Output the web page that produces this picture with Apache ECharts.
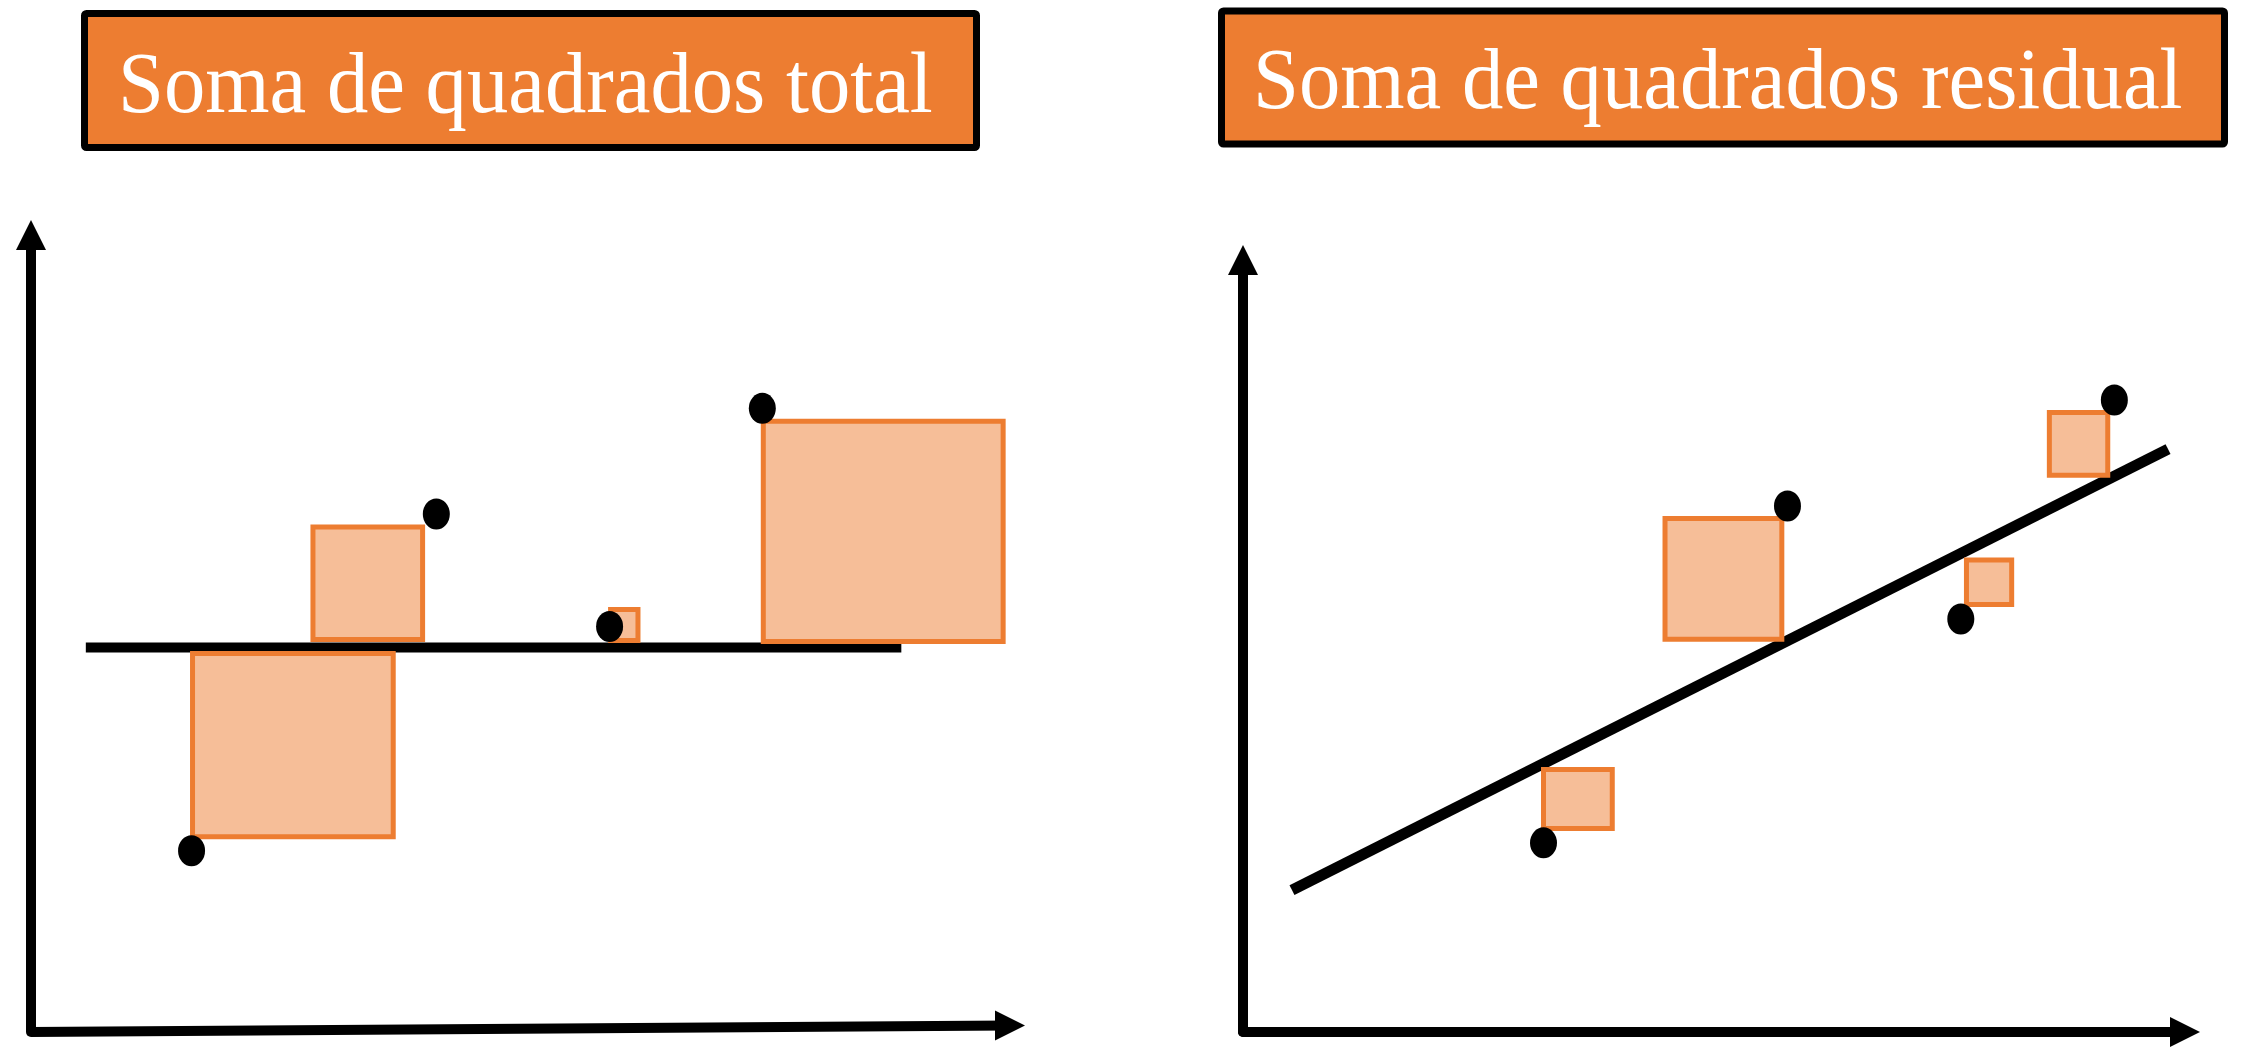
<!DOCTYPE html>
<html>
<head>
<meta charset="utf-8">
<script src="https://cdn.jsdelivr.net/npm/echarts@6.0.0/dist/echarts.min.js"></script>
<style>
html,body{margin:0;padding:0;background:#ffffff;}
#chart{width:2241px;height:1063px;}
</style>
</head>
<body>
<div id="chart"></div>
<script>
// ---- Titles ----
const panelTitles = ['Soma de quadrados total', 'Soma de quadrados residual'];

// ---- Left panel: total sum of squares (data units) ----
const totalPointX = [1.64, 4.14, 5.91, 7.47];
const totalPointY = [1.82, 5.20, 4.07, 6.26];
const totalMeanX = [0.56, 8.89];
const totalMeanY = [3.86, 3.86];
const totalSquareX0 = [1.65, 2.88, 5.92, 7.48];
const totalSquareX1 = [3.70, 4.00, 6.20, 9.93];
const totalSquareY0 = [1.96, 3.94, 3.93, 3.92];
const totalSquareY1 = [3.80, 5.07, 4.24, 6.13];
// slightly tilted horizontal axis of the left panel (start / end, data units)
const totalAxisX = [0, 10];
const totalAxisY = [0, 0.065];

// ---- Right panel: residual sum of squares (data units) ----
const residualPointX = [3.19, 5.78, 7.62, 9.25];
const residualPointY = [1.96, 5.45, 4.28, 6.55];
const fitLineX = [0.52, 9.82];
const fitLineY = [1.47, 6.04];
const residualSquareX0 = [3.19, 4.48, 7.68, 8.56];
const residualSquareX1 = [3.92, 5.72, 8.16, 9.18];
const residualSquareY0 = [2.11, 4.07, 4.43, 5.77];
const residualSquareY1 = [2.72, 5.32, 4.89, 6.42];

// ---- Axis ranges ----
const axisXMax = 10;
const axisYMax = 8;

const ORANGE = '#ED7D31';
const SQUARE_FILL = '#F6BE98';

function zipPts(xs, ys) { return xs.map((x, i) => [x, ys[i]]); }
function zipRects(x0, y0, x1, y1) { return x0.map((v, i) => [v, y0[i], x1[i], y1[i]]); }

function renderSquare(params, api) {
  const a = api.coord([api.value(0), api.value(3)]);
  const b = api.coord([api.value(2), api.value(1)]);
  return {
    type: 'rect',
    shape: { x: a[0], y: a[1], width: b[0] - a[0], height: b[1] - a[1] },
    style: { fill: SQUARE_FILL, stroke: ORANGE, lineWidth: 5 }
  };
}

function makeAxis(gridIndex, max, showLine) {
  return {
    type: 'value', gridIndex: gridIndex, min: 0, max: max,
    axisLine: {
      show: showLine, onZero: false,
      symbol: ['none', 'triangle'], symbolSize: [30, 30],
      lineStyle: { color: '#000', width: 10 }
    },
    axisTick: { show: false }, axisLabel: { show: false }, splitLine: { show: false }
  };
}

const titleTextStyle = {
  font: '87px "Liberation Serif", "Times New Roman", serif',
  fill: '#ffffff',
  align: 'left',
  verticalAlign: 'middle',
  shadowColor: 'rgba(40,20,0,0.7)',
  shadowBlur: 4,
  shadowOffsetX: 3,
  shadowOffsetY: 4
};

const chart = echarts.init(document.getElementById('chart'), null, { renderer: 'canvas' });
chart.setOption({
  animation: false,
  backgroundColor: '#ffffff',
  grid: [
    { left: 31, top: 235, width: 979, height: 797 },
    { left: 1243, top: 260, width: 942, height: 772 }
  ],
  xAxis: [makeAxis(0, axisXMax, false), makeAxis(1, axisXMax, true)],
  yAxis: [makeAxis(0, axisYMax, true), makeAxis(1, axisYMax, true)],
  graphic: [
    { type: 'rect', z: 10, shape: { x: 84.5, y: 13.5, width: 892, height: 134, r: 2 },
      style: { fill: ORANGE, stroke: '#000', lineWidth: 7, lineJoin: 'round' } },
    { type: 'text', z: 11, x: 118, y: 89, scaleX: 0.95,
      style: Object.assign({ text: panelTitles[0] }, titleTextStyle) },
    { type: 'rect', z: 10, shape: { x: 1221.5, y: 11, width: 1003, height: 133, r: 2 },
      style: { fill: ORANGE, stroke: '#000', lineWidth: 7, lineJoin: 'round' } },
    { type: 'text', z: 11, x: 1253, y: 85, scaleX: 0.95,
      style: Object.assign({ text: panelTitles[1] }, titleTextStyle) }
  ],
  series: [
    // left panel horizontal axis with arrow head
    { type: 'line', xAxisIndex: 0, yAxisIndex: 0, z: 1, clip: false,
      data: [
        { value: [totalAxisX[0], totalAxisY[0]], symbol: 'none' },
        { value: [totalAxisX[1], totalAxisY[1]], symbol: 'triangle', symbolSize: [30, 30], symbolRotate: -90 }
      ],
      showSymbol: true, showAllSymbol: true,
      itemStyle: { color: '#000' },
      lineStyle: { color: '#000', width: 10, cap: 'butt' } },
    { type: 'line', xAxisIndex: 0, yAxisIndex: 0, z: 1,
      data: zipPts(totalMeanX, totalMeanY), symbol: 'none',
      lineStyle: { color: '#000', width: 10, cap: 'butt' } },
    { type: 'custom', xAxisIndex: 0, yAxisIndex: 0, z: 2,
      data: zipRects(totalSquareX0, totalSquareY0, totalSquareX1, totalSquareY1),
      encode: { x: [0, 2], y: [1, 3] }, renderItem: renderSquare },
    { type: 'scatter', xAxisIndex: 0, yAxisIndex: 0, z: 3,
      data: zipPts(totalPointX, totalPointY), symbol: 'circle', symbolSize: [27, 31],
      itemStyle: { color: '#000', opacity: 1 } },

    { type: 'line', xAxisIndex: 1, yAxisIndex: 1, z: 1,
      data: zipPts(fitLineX, fitLineY), symbol: 'none',
      lineStyle: { color: '#000', width: 11, cap: 'butt' } },
    { type: 'custom', xAxisIndex: 1, yAxisIndex: 1, z: 2,
      data: zipRects(residualSquareX0, residualSquareY0, residualSquareX1, residualSquareY1),
      encode: { x: [0, 2], y: [1, 3] }, renderItem: renderSquare },
    { type: 'scatter', xAxisIndex: 1, yAxisIndex: 1, z: 3,
      data: zipPts(residualPointX, residualPointY), symbol: 'circle', symbolSize: [27, 31],
      itemStyle: { color: '#000', opacity: 1 } }
  ]
});
</script>
</body>
</html>
